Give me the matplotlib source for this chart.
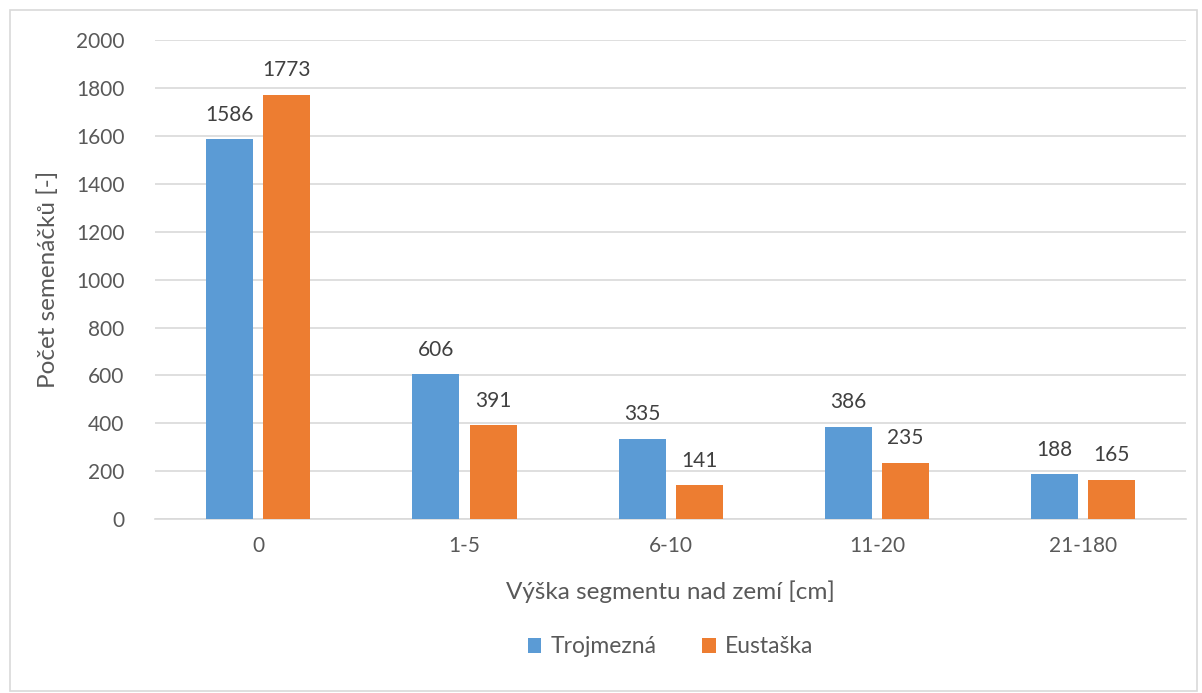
import numpy as np
import matplotlib.pyplot as plt
from matplotlib.patches import Rectangle

# Data
categories = ['0', '1-5', '6-10', '11-20', '21-180']
trojmezna = [1586, 606, 335, 386, 188]
eustaska = [1773, 391, 141, 235, 165]

blue = '#5B9BD5'
orange = '#ED7D31'
txt = '#595959'

plt.rcParams['font.family'] = ['Lato', 'DejaVu Sans']

fig = plt.figure(figsize=(12.02, 6.93), dpi=100)
ax = fig.add_axes([0.129, 0.251, 0.858, 0.691])

# chart border
fig.patches.append(Rectangle((10 / 1202, 2 / 693), 1187 / 1202, 681 / 693,
                             transform=fig.transFigure, fill=False,
                             edgecolor='#D9D9D9', lw=1.2))

x = np.arange(len(categories))
w = 0.228
gap = 0.05
b1 = ax.bar(x - (w + gap) / 2, trojmezna, w, color=blue, label='Trojmezná', zorder=3)
b2 = ax.bar(x + (w + gap) / 2, eustaska, w, color=orange, label='Eustaška', zorder=3)

for bars in (b1, b2):
    for b in bars:
        ax.text(b.get_x() + b.get_width() / 2, b.get_height() + 60, f'{int(b.get_height())}',
                ha='center', va='bottom', fontsize=15, color='#404040')

ax.set_xlim(-0.5, len(categories) - 0.5)
ax.set_ylim(0, 2000)
ax.set_yticks(range(0, 2001, 200))
ax.set_xticks(x)
ax.set_xticklabels(categories)
ax.tick_params(axis='both', length=0, labelsize=15, labelcolor=txt)
ax.tick_params(axis='y', pad=22)
ax.tick_params(axis='x', pad=12)
ax.grid(axis='y', color='#D9D9D9', lw=1.2, zorder=0)
for s in ['top', 'right', 'left']:
    ax.spines[s].set_visible(False)
ax.spines['bottom'].set_color('#D9D9D9')
ax.spines['bottom'].set_linewidth(1.2)

ax.set_xlabel('Výška segmentu nad zemí [cm]', fontsize=17.5, color=txt, labelpad=18)
ax.set_ylabel('Počet semenáčků [-]', fontsize=17.5, color=txt, labelpad=12)

ax.legend(loc='center', bbox_to_anchor=(0.5, -0.267), ncol=2, frameon=False,
          fontsize=16.5, labelcolor=txt, handlelength=0.6, handleheight=0.6,
          columnspacing=2.0, handletextpad=0.4)

fig.savefig('out.png', dpi=100)
